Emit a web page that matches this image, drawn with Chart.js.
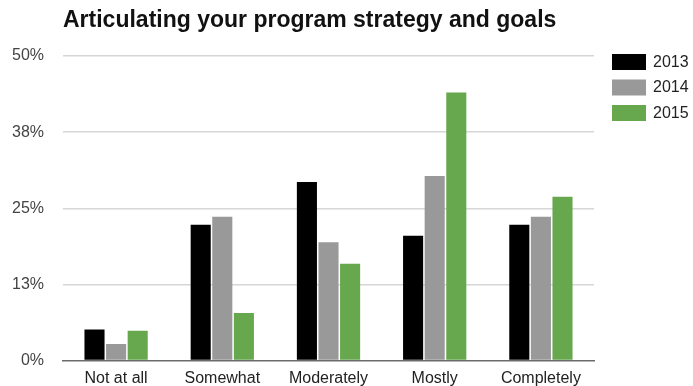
<!DOCTYPE html>
<html>
<head>
<meta charset="utf-8">
<script src="https://cdn.jsdelivr.net/npm/chart.js@4/dist/chart.umd.min.js"></script>
<style>
  html, body { margin: 0; padding: 0; background: #fff; }
  #wrap { width: 693px; height: 386px; }
</style>
</head>
<body>
<div id="wrap"><canvas id="barChart" width="693" height="386"></canvas></div>
<script>
const categories = ['Not at all', 'Somewhat', 'Moderately', 'Mostly', 'Completely'];
const values2013 = [5.1, 22.3, 29.3, 20.5, 22.3];
const values2014 = [2.7, 23.6, 19.4, 30.3, 23.6];
const values2015 = [4.9, 7.8, 15.9, 44.0, 26.9];
const tickLabels = ['0%', '13%', '25%', '38%', '50%'];
const chartTitle = 'Articulating your program strategy and goals';

const COLORS = { c2013: '#000000', c2014: '#999999', c2015: '#67a84f' };
const FONT = '"Liberation Sans", Arial, sans-serif';

// title sits flush with the plot's left edge
const titlePlugin = {
  id: 'leftTitle',
  afterDraw(chart) {
    const c = chart.ctx;
    c.save();
    c.font = 'bold 23px ' + FONT;
    c.fillStyle = '#111';
    c.textBaseline = 'alphabetic';
    c.textAlign = 'left';
    c.fillText(chartTitle, chart.chartArea.left, 27);
    c.restore();
  }
};

// legend on the right, drawn by hand so the gap matches the original
const sideLegend = {
  id: 'sideLegend',
  afterDraw(chart) {
    const c = chart.ctx;
    const x = chart.chartArea.right + 18;
    c.save();
    c.font = '16px ' + FONT;
    c.textBaseline = 'middle';
    chart.data.datasets.forEach((ds, i) => {
      const y = 54 + i * 25.5;
      c.fillStyle = ds.backgroundColor;
      c.fillRect(x, y, 34, 16);
      c.fillStyle = '#222';
      c.fillText(ds.label, x + 41, y + 8.5);
    });
    c.restore();
  }
};

const ctx = document.getElementById('barChart').getContext('2d');
const chart = new Chart(ctx, {
  type: 'bar',
  data: {
    labels: categories,
    datasets: [
      { label: '2013', data: values2013, backgroundColor: COLORS.c2013 },
      { label: '2014', data: values2014, backgroundColor: COLORS.c2014 },
      { label: '2015', data: values2015, backgroundColor: COLORS.c2015 },
    ],
  },
  options: {
    responsive: false,
    animation: false,
    devicePixelRatio: 1,
    layout: { padding: { top: 56, right: 99, left: 0, bottom: 0 } },
    datasets: {
      bar: { categoryPercentage: 0.61, barPercentage: 0.93, borderWidth: 0 },
    },
    plugins: {
      title: { display: false },
      tooltip: { enabled: false },
      legend: { display: false },
    },
    scales: {
      x: {
        afterFit: (scale) => { scale.height = 25.5; },
        grid: { display: false, drawTicks: false },
        border: { color: '#6b6b6b', width: 1.5 },
        ticks: {
          color: '#222',
          padding: 10,
          maxRotation: 0,
          font: { family: FONT, size: 16, lineHeight: 1 },
        },
      },
      y: {
        min: 0,
        max: 50,
        afterFit: (scale) => {
          scale.width = 63;
          scale.paddingTop = 0;
          scale.paddingBottom = 0;
        },
        border: { display: false },
        grid: {
          drawTicks: false,
          color: (c) => (c.index === 0 ? 'rgba(0,0,0,0)' : '#d6d6d6'),
          lineWidth: 1.5,
        },
        ticks: {
          stepSize: 12.5,
          padding: 19,
          color: '#444',
          font: { family: FONT, size: 16 },
          callback: (v, i) => tickLabels[i],
        },
      },
    },
  },
  plugins: [titlePlugin, sideLegend],
});
</script>
</body>
</html>
